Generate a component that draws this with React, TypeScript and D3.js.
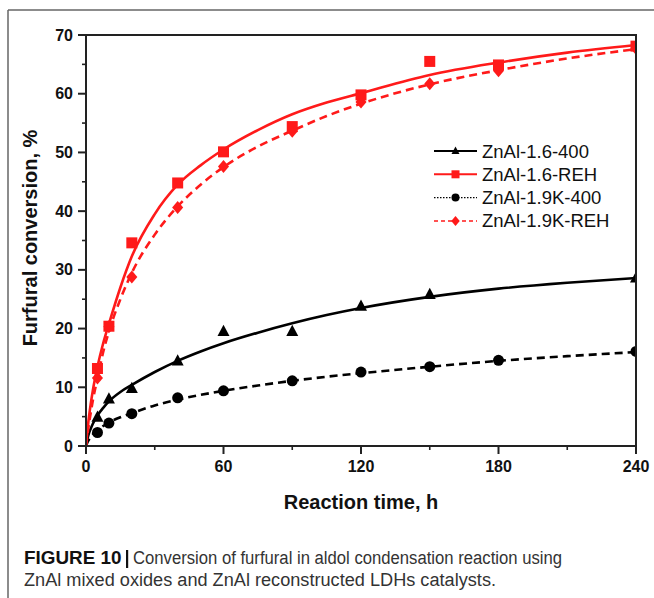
import React from "react";
import * as d3 from "d3";

// ---- Data ----
const seriesNames = ["ZnAl-1.6-400", "ZnAl-1.6-REH", "ZnAl-1.9K-400", "ZnAl-1.9K-REH"];

// measured points
const tA = [5, 10, 20, 40, 60, 90, 120, 150, 240];
const vA = [4.9, 8.0, 9.8, 14.5, 19.5, 19.5, 23.8, 25.8, 28.6];

const tB = [5, 10, 20, 40, 60, 90, 120, 150, 180, 240];
const vB = [13.2, 20.4, 34.6, 44.8, 50.1, 54.4, 59.8, 65.5, 64.9, 68.1];

const tC = [5, 10, 20, 40, 60, 90, 120, 150, 180, 240];
const vC = [2.3, 3.9, 5.5, 8.2, 9.4, 11.1, 12.6, 13.5, 14.6, 16.1];

const tD = [5, 10, 20, 40, 60, 90, 120, 150, 180, 240];
const vD = [11.6, 20.3, 28.8, 40.6, 47.6, 53.6, 58.6, 61.7, 63.9, 67.7];

// fitted curves
const fitT = [0, 1, 2, 3, 5, 7.5, 10, 15, 20, 30, 40, 50, 60, 75, 90, 105, 120, 150, 180, 210, 240];
const fitA = [0, 1.8, 2.9, 3.8, 5.2, 6.5, 7.6, 9.2, 10.4, 12.6, 14.5, 16.1, 17.5, 19.3, 20.9, 22.3, 23.5, 25.4, 26.8, 27.8, 28.6];
const fitB = [0, 4, 7, 9.5, 13.5, 17.5, 20.8, 27, 32.3, 39.5, 44.5, 47.8, 50.5, 53.8, 56.5, 58.5, 60.1, 63.2, 65.3, 67, 68.3];
const fitC = [0, 0.9, 1.5, 2.0, 2.7, 3.4, 4.0, 4.9, 5.6, 6.9, 7.9, 8.7, 9.4, 10.3, 11.1, 11.8, 12.4, 13.5, 14.5, 15.3, 16.0];
const fitD = [0, 3, 5.5, 7.8, 11.5, 16, 19.5, 25, 29.5, 36, 40.8, 44.5, 47.5, 51, 53.7, 56.2, 58.3, 61.6, 64, 66, 67.6];

const xTicks = [0, 60, 120, 180, 240];
const xMinor = [30, 90, 150, 210];
const yTicks = [0, 10, 20, 30, 40, 50, 60, 70];
const yMinor = [5, 15, 25, 35, 45, 55, 65];

const captionBold = "FIGURE 10";
const captionLine1 = "Conversion of furfural in aldol condensation reaction using";
const captionLine2 = "ZnAl mixed oxides and ZnAl reconstructed LDHs catalysts.";

const FONT = "'Liberation Sans', Arial, Helvetica, sans-serif";
const RED = "#ff1a1a";
const BLACK = "#000";

type Marker = "triangle" | "square" | "circle" | "diamond";

function MarkerShape({ m, x, y, s, color }: { m: Marker; x: number; y: number; s: number; color: string }) {
  if (m === "square") return <rect x={x - s / 2} y={y - s / 2} width={s} height={s} fill={color} />;
  if (m === "circle") return <circle cx={x} cy={y} r={s / 2} fill={color} />;
  if (m === "triangle") {
    const h = s * 0.9;
    return <path d={`M${x},${y - h * 0.62}L${x + s / 2},${y + h * 0.42}L${x - s / 2},${y + h * 0.42}Z`} fill={color} />;
  }
  const r = s / 2;
  return <path d={`M${x},${y - r}L${x + r * 0.85},${y}L${x},${y + r}L${x - r * 0.85},${y}Z`} fill={color} />;
}

export default function App() {
  const left = 86, right = 636, top = 35, bottom = 446;
  const x = d3.scaleLinear().domain([0, 240]).range([left, right]);
  const y = d3.scaleLinear().domain([0, 70]).range([bottom, top]);

  const line = d3
    .line<[number, number]>()
    .x((d) => x(d[0]))
    .y((d) => y(d[1]))
    .curve(d3.curveMonotoneX);

  const series = [
    { name: seriesNames[0], t: tA, v: vA, fit: fitA, color: BLACK, m: "triangle" as Marker, dash: "", size: 12, legDash: "", legW: 2 },
    { name: seriesNames[1], t: tB, v: vB, fit: fitB, color: RED, m: "square" as Marker, dash: "", size: 11, legDash: "", legW: 2 },
    { name: seriesNames[2], t: tC, v: vC, fit: fitC, color: BLACK, m: "circle" as Marker, dash: "8 5", size: 11, legDash: "1.5 1.5", legW: 1.3 },
    { name: seriesNames[3], t: tD, v: vD, fit: fitD, color: RED, m: "diamond" as Marker, dash: "8 5", size: 13, legDash: "4 3", legW: 1.5 },
  ];

  const drawOrder = [0, 2, 3, 1];

  return (
    <svg width={654} height={598} style={{ position: "absolute", left: 0, top: 0, background: "#fff" }}>
      <defs>
        <clipPath id="plotclip">
          <rect x={left} y={top} width={right - left} height={bottom - top} />
        </clipPath>
      </defs>
      {/* outer frame */}
      <line x1={8} y1={10} x2={654} y2={10} stroke="#666" strokeWidth={1.5} />
      <line x1={8} y1={10} x2={8} y2={598} stroke="#666" strokeWidth={1.5} />

      {/* fits and markers */}
      <g clipPath="url(#plotclip)">
        {drawOrder.map((k) => {
          const s = series[k];
          const pts: [number, number][] = fitT.map((t, i) => [t, s.fit[i]]);
          return (
            <path key={"f" + k} d={line(pts) || ""} fill="none" stroke={s.color} strokeWidth={2.6} strokeDasharray={s.dash || undefined} />
          );
        })}
        {drawOrder.map((k) => {
          const s = series[k];
          return (
            <g key={"m" + k}>
              {s.t.map((t, i) => (
                <MarkerShape key={i} m={s.m} x={x(t)} y={y(s.v[i])} s={s.size} color={s.color} />
              ))}
            </g>
          );
        })}
      </g>

      {/* plot box */}
      <rect x={left} y={top} width={right - left} height={bottom - top} fill="none" stroke="#222" strokeWidth={2} />

      {/* y axis ticks */}
      {yTicks.map((v) => (
        <g key={"yt" + v}>
          <line x1={left - 8} x2={left} y1={y(v)} y2={y(v)} stroke="#222" strokeWidth={2} />
          <text x={left - 13} y={y(v) + 5.5} textAnchor="end" fontFamily={FONT} fontWeight="bold" fontSize={16} fill="#111">
            {v}
          </text>
        </g>
      ))}
      {yMinor.map((v) => (
        <line key={"ym" + v} x1={left - 4} x2={left} y1={y(v)} y2={y(v)} stroke="#222" strokeWidth={1.6} />
      ))}

      {/* x axis ticks */}
      {xTicks.map((v) => (
        <g key={"xt" + v}>
          <line x1={x(v)} x2={x(v)} y1={bottom} y2={bottom + 8} stroke="#222" strokeWidth={2} />
          <text x={x(v)} y={bottom + 26} textAnchor="middle" fontFamily={FONT} fontWeight="bold" fontSize={16} fill="#111">
            {v}
          </text>
        </g>
      ))}
      {xMinor.map((v) => (
        <line key={"xm" + v} x1={x(v)} x2={x(v)} y1={bottom} y2={bottom + 4} stroke="#222" strokeWidth={1.6} />
      ))}

      {/* axis titles */}
      <text x={361} y={509} textAnchor="middle" fontFamily={FONT} fontWeight="bold" fontSize={20} fill="#111">
        Reaction time, h
      </text>
      <text transform={`translate(37,238) rotate(-90)`} textAnchor="middle" fontFamily={FONT} fontWeight="bold" fontSize={20} fill="#111">
        Furfural conversion, %
      </text>

      {/* legend */}
      {series.map((s, i) => {
        const ly = 151 + i * 23.3;
        return (
          <g key={"leg" + i}>
            <line x1={434} x2={477} y1={ly} y2={ly} stroke={s.color} strokeWidth={s.legW} strokeDasharray={s.legDash || undefined} />
            <MarkerShape m={s.m} x={455.5} y={ly} s={s.m === "diamond" ? 10 : 8} color={s.color} />
            <text x={482} y={ly + 6.5} fontFamily={FONT} fontSize={18.5} fill="#111">
              {s.name}
            </text>
          </g>
        );
      })}

      {/* caption */}
      <text x={24} y={564} fontFamily={FONT} fontWeight="bold" fontSize={18} fill="#111" textLength={97.5} lengthAdjust="spacingAndGlyphs">
        {captionBold}
      </text>
      <rect x={126} y={550} width={2.2} height={18} fill="#111" />
      <text x={133} y={564} fontFamily={FONT} fontSize={18} fill="#333" textLength={429} lengthAdjust="spacingAndGlyphs">
        {captionLine1}
      </text>
      <text x={24} y={586} fontFamily={FONT} fontSize={18} fill="#333" textLength={472} lengthAdjust="spacingAndGlyphs">
        {captionLine2}
      </text>
    </svg>
  );
}
